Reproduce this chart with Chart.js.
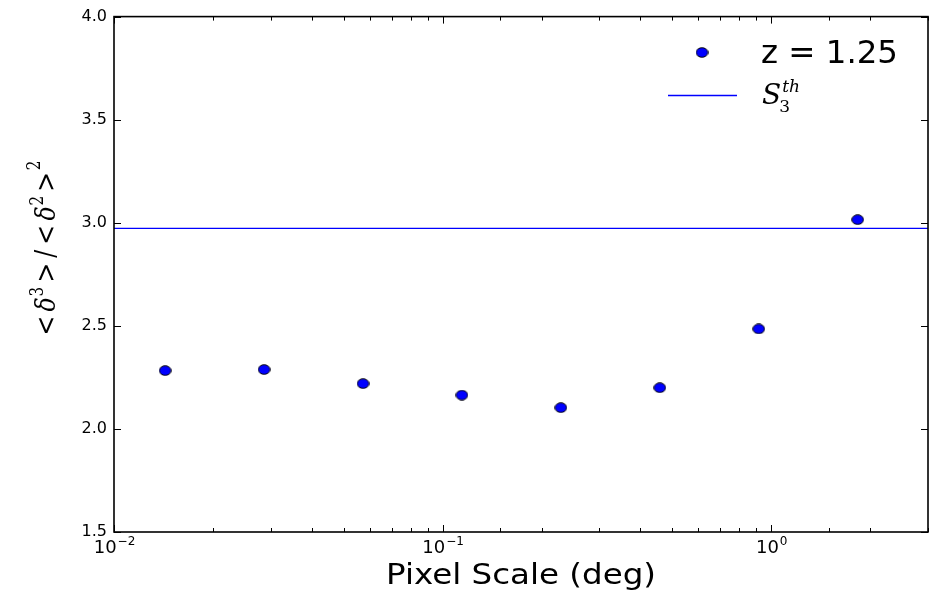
<!DOCTYPE html>
<html>
<head>
<meta charset="utf-8">
<script src="https://cdn.jsdelivr.net/npm/chart.js@4.4.0/dist/chart.umd.min.js"></script>
<style>
  html, body { margin: 0; padding: 0; background: #fff; }
</style>
</head>
<body>
<canvas id="skew" width="939" height="595"></canvas>
<script>
// pixel scale in deg (HEALPix nside 4096 ... 32) and measured skewness
const pixelScale = [0.01431, 0.02863, 0.05726, 0.1145, 0.2290, 0.4581, 0.9161, 1.8323];
const skewness = [2.283, 2.288, 2.220, 2.164, 2.103, 2.200, 2.485, 3.015];
const s3Theory = 2.973;
const xRange = [0.01, 3];
const yRange = [1.5, 4.0];
const seriesLabel = 'z = 1.25';

const BLUE = '#0000ff';
const SERIF = '"DejaVu Serif"';

function ellipseMarker(w, h) {
    const c = document.createElement('canvas');
    c.width = w;
    c.height = h;
    const g = c.getContext('2d');
    g.beginPath();
    g.ellipse(w / 2, h / 2, w / 2 - 0.7, h / 2 - 0.7, 0, 0, Math.PI * 2);
    g.fillStyle = BLUE;
    g.fill();
    g.lineWidth = 1;
    g.strokeStyle = '#000';
    g.stroke();
    return c;
}
const marker = ellipseMarker(13, 11);

function isDecade(v) {
    const l = Math.log10(v);
    return Math.abs(l - Math.round(l)) < 1e-6;
}

function stretchText(ctx, txt, x, y, sx, align) {
    ctx.save();
    ctx.translate(x, y);
    ctx.scale(sx, 1);
    ctx.textAlign = align;
    ctx.fillText(txt, 0, 0);
    ctx.restore();
}

// <δ^3> / <δ^2>^2 as pieces: text, font, baseline shift, gap after
const yTitle = [
    ['<', '28px ' + SERIF, 0, 5],
    ['\u03B4', 'italic 28px ' + SERIF, 0, 1],
    ['3', '18px ' + SERIF, -12, 5],
    ['>', '28px ' + SERIF, 0, 6],
    ['/', '28px ' + SERIF, 0, 6],
    ['<', '28px ' + SERIF, 0, 5],
    ['\u03B4', 'italic 28px ' + SERIF, 0, 1],
    ['2', '18px ' + SERIF, -12, 5],
    ['>', '28px ' + SERIF, 0, 2],
    ['2', '18px ' + SERIF, -15, 0],
];

function drawMath(ctx, parts, cx, cy, length) {
    let total = 0;
    parts.forEach(p => { ctx.font = p[1]; total += ctx.measureText(p[0]).width + p[3]; });
    ctx.save();
    ctx.translate(cx, cy);
    ctx.rotate(-Math.PI / 2);
    ctx.scale(length / total, 1);
    ctx.textAlign = 'left';
    let x = -total / 2;
    parts.forEach(p => {
        ctx.font = p[1];
        ctx.fillText(p[0], x, p[2]);
        x += ctx.measureText(p[0]).width + p[3];
    });
    ctx.restore();
}

// frame, inward ticks, decade labels, axis titles and legend
const framePlugin = {
    id: 'frame',
    afterDraw(chart) {
        const ctx = chart.ctx;
        const a = chart.chartArea;
        const xs = chart.scales.x, ys = chart.scales.y;
        ctx.save();
        ctx.strokeStyle = '#000';
        ctx.lineWidth = 1;
        ctx.beginPath();
        xs.ticks.forEach(t => {
            const px = Math.round(xs.getPixelForValue(t.value)) + 0.5;
            const len = isDecade(t.value) ? 7 : 4;
            ctx.moveTo(px, a.bottom); ctx.lineTo(px, a.bottom - len);
            ctx.moveTo(px, a.top); ctx.lineTo(px, a.top + len);
        });
        ys.ticks.forEach(t => {
            const py = Math.round(ys.getPixelForValue(t.value)) + 0.5;
            ctx.moveTo(a.left, py); ctx.lineTo(a.left + 7, py);
            ctx.moveTo(a.right, py); ctx.lineTo(a.right - 7, py);
        });
        ctx.stroke();

        ctx.lineWidth = 1.6;
        ctx.strokeRect(a.left, a.top, a.right - a.left, a.bottom - a.top);

        // decade labels 10^n
        ctx.fillStyle = '#000';
        ctx.textBaseline = 'alphabetic';
        xs.ticks.filter(t => isDecade(t.value)).forEach(t => {
            const px = xs.getPixelForValue(t.value);
            const exp = String(Math.round(Math.log10(t.value))).replace('-', '\u2212');
            ctx.font = '18px "DejaVu Sans"';
            const bw = ctx.measureText('10').width;
            ctx.font = '12px "DejaVu Sans"';
            const ew = ctx.measureText(exp).width;
            const x0 = px - (bw + ew) / 2;
            ctx.font = '18px "DejaVu Sans"';
            ctx.textAlign = 'left';
            ctx.fillText('10', x0, a.bottom + 21);
            ctx.font = '12px "DejaVu Sans"';
            ctx.fillText(exp, x0 + bw + 1, a.bottom + 13);
        });

        // x title
        ctx.font = '28px "DejaVu Sans"';
        const xt = 'Pixel Scale (deg)';
        const xw = ctx.measureText(xt).width;
        stretchText(ctx, xt, (a.left + a.right) / 2, 584, 270 / xw, 'center');

        // y title, rotated
        drawMath(ctx, yTitle, 55, 248, 175);

        // legend
        const lx = a.right - 260;
        ctx.drawImage(marker, lx + 34 - marker.width / 2, 52.5 - marker.height / 2);
        ctx.font = '32px "DejaVu Sans"';
        const lt = seriesLabel;
        stretchText(ctx, lt, lx + 93, 63, 137 / ctx.measureText(lt).width, 'left');

        ctx.strokeStyle = BLUE;
        ctx.lineWidth = 1.3;
        ctx.beginPath();
        ctx.moveTo(lx, 95.5);
        ctx.lineTo(lx + 69, 95.5);
        ctx.stroke();

        ctx.textAlign = 'left';
        ctx.font = 'italic 28px ' + SERIF;
        ctx.fillText('S', lx + 94, 104);
        const sw = ctx.measureText('S').width;
        ctx.font = 'italic 17px ' + SERIF;
        ctx.fillText('th', lx + 94 + sw + 1, 92);
        ctx.font = '17px ' + SERIF;
        ctx.fillText('3', lx + 94 + sw - 2, 112);
        ctx.restore();
    }
};

new Chart(document.getElementById('skew'), {
    type: 'scatter',
    data: {
        datasets: [
            {
                label: seriesLabel,
                data: pixelScale.map((x, i) => ({ x: x, y: skewness[i] })),
                pointStyle: marker,
                pointRadius: 6,
            },
            {
                label: 'S3th',
                data: xRange.map(x => ({ x: x, y: s3Theory })),
                showLine: true,
                borderColor: BLUE,
                borderWidth: 1.3,
                pointRadius: 0,
            }
        ]
    },
    options: {
        responsive: false,
        animation: false,
        events: [],
        layout: { padding: { top: 15, right: 11, left: 0, bottom: 0 } },
        plugins: {
            legend: { display: false },
            tooltip: { enabled: false },
        },
        scales: {
            x: {
                type: 'logarithmic',
                min: xRange[0],
                max: xRange[1],
                afterFit: s => { s.height = 63; },
                grid: { display: false, drawTicks: false },
                border: { display: false },
                ticks: { display: false, autoSkip: false }
            },
            y: {
                min: yRange[0],
                max: yRange[1],
                afterFit: s => { s.width = 114; },
                grid: { display: false, drawTicks: false },
                border: { display: false },
                ticks: {
                    stepSize: 0.5,
                    padding: 7,
                    color: '#000',
                    font: { family: 'DejaVu Sans', size: 16 },
                    callback: v => v.toFixed(1)
                }
            }
        }
    },
    plugins: [framePlugin]
});
</script>
</body>
</html>
